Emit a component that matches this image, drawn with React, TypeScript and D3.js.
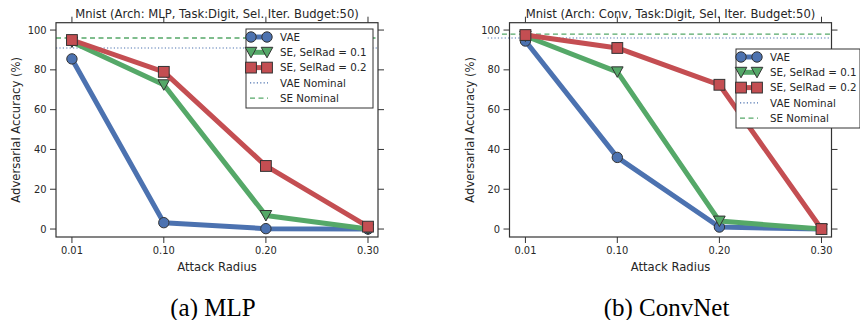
import React from "react";
import * as d3 from "d3";

// attack radii on the x axis
const radii = [0.01, 0.1, 0.2, 0.3];
const xTicks = [0.01, 0.1, 0.2, 0.3];
const yTicks = [0, 20, 40, 60, 80, 100];

// (a) MLP
const mlpVae = [85.5, 3.2, 0.2, 0];
const mlpSe01 = [94, 72.5, 6.8, 0];
const mlpSe02 = [95, 79, 31.7, 1.2];
const mlpNominal = { vae: 91, se: 96 };

// (b) ConvNet
const convVae = [94.5, 36, 1, 0];
const convSe01 = [97, 79, 4, 0];
const convSe02 = [97.5, 91, 72.5, 0];
const convNominal = { vae: 96, se: 98 };

const seriesNames = ["VAE", "SE, SelRad = 0.1", "SE, SelRad = 0.2"];
const nominalNames = ["VAE Nominal", "SE Nominal"];

const BLUE = "#4C72B0";
const GREEN = "#55A868";
const RED = "#C44E52";
const INK = "#262626";
const EDGE = "#333";
const FONT = "'DejaVu Sans', sans-serif";

type Marker = "circle" | "tri" | "square";

const styles: { color: string; marker: Marker }[] = [
  { color: BLUE, marker: "circle" },
  { color: GREEN, marker: "tri" },
  { color: RED, marker: "square" },
];

function MarkerShape({ kind, x, y, fill }: { kind: Marker; x: number; y: number; fill: string }) {
  if (kind === "circle")
    return <circle cx={x} cy={y} r={5.2} fill={fill} stroke={EDGE} strokeWidth={1} />;
  if (kind === "square")
    return <rect x={x - 5.4} y={y - 5.4} width={10.8} height={10.8} fill={fill} stroke={EDGE} strokeWidth={1} />;
  return (
    <path
      d={`M${x - 5.8},${y - 5}L${x + 5.8},${y - 5}L${x},${y + 5.5}Z`}
      fill={fill}
      stroke={EDGE}
      strokeWidth={1}
    />
  );
}

type PanelProps = {
  left: number;
  title: string;
  caption: string;
  series: number[][];
  nominal: { vae: number; se: number };
  nominalStart: { vae: number; se: number };
  legend: { x: number; y: number; w: number };
};

function Panel({ left, title, caption, series, nominal, nominalStart, legend }: PanelProps) {
  const w = 322;
  const top = 22.7;
  const bottom = 237;
  const x = d3.scaleLinear().domain([-0.0056, 0.3098]).range([left, left + w]);
  const y = d3.scaleLinear().domain([-4, 103.7]).range([bottom, top]);
  const line = d3
    .line<number>()
    .x((_, i) => x(radii[i]))
    .y((d) => y(d));
  const cx = left + w / 2;
  const rowH = 15.3;

  return (
    <g>
      {/* nominal reference lines */}
      <line
        x1={x(nominalStart.vae)}
        x2={left + w}
        y1={y(nominal.vae)}
        y2={y(nominal.vae)}
        stroke={BLUE}
        strokeWidth={1.1}
        strokeDasharray="1.2,2.2"
      />
      <line
        x1={x(nominalStart.se)}
        x2={left + w}
        y1={y(nominal.se)}
        y2={y(nominal.se)}
        stroke={GREEN}
        strokeWidth={1.3}
        strokeDasharray="5,3.5"
      />

      {series.map((vals, si) => (
        <g key={si}>
          <path
            d={line(vals) || ""}
            fill="none"
            stroke={styles[si].color}
            strokeWidth={5}
            strokeLinejoin="round"
          />
          {vals.map((v, i) => (
            <MarkerShape key={i} kind={styles[si].marker} x={x(radii[i])} y={y(v)} fill={styles[si].color} />
          ))}
        </g>
      ))}

      {/* frame */}
      <rect x={left} y={top} width={w} height={bottom - top} fill="none" stroke={EDGE} strokeWidth={1.2} />

      {/* ticks */}
      {xTicks.map((t) => (
        <g key={"x" + t}>
          <line x1={x(t)} x2={x(t)} y1={bottom} y2={bottom + 6} stroke={EDGE} strokeWidth={1} />
          <line x1={x(t)} x2={x(t)} y1={top} y2={top - 6} stroke={EDGE} strokeWidth={1} />
          <text x={x(t)} y={254} textAnchor="middle" fontSize={9.9} fill={INK} fontFamily={FONT}>
            {d3.format(".2f")(t)}
          </text>
        </g>
      ))}
      {yTicks.map((t) => (
        <g key={"y" + t}>
          <line x1={left - 6} x2={left} y1={y(t)} y2={y(t)} stroke={EDGE} strokeWidth={1} />
          <line x1={left + w} x2={left + w + 6} y1={y(t)} y2={y(t)} stroke={EDGE} strokeWidth={1} />
          <text x={left - 9.5} y={y(t) + 3.5} textAnchor="end" fontSize={9.9} fill={INK} fontFamily={FONT}>
            {t}
          </text>
        </g>
      ))}

      {/* labels */}
      <text x={cx} y={17.7} textAnchor="middle" fontSize={11.6} fill={INK} fontFamily={FONT}>
        {title}
      </text>
      <text x={cx} y={270.5} textAnchor="middle" fontSize={11.6} fill={INK} fontFamily={FONT}>
        Attack Radius
      </text>
      <text
        transform={`translate(${left - 36},${(top + bottom) / 2}) rotate(-90)`}
        textAnchor="middle"
        fontSize={11.6}
        fill={INK}
        fontFamily={FONT}
      >
        Adversarial Accuracy (%)
      </text>
      <text
        x={cx - 4}
        y={315.5}
        textAnchor="middle"
        fontSize={25}
        fill="#000"
        fontFamily="'Liberation Serif', 'Times New Roman', serif"
      >
        {caption}
      </text>

      {/* legend */}
      <g transform={`translate(${legend.x},${legend.y})`}>
        <rect x={0} y={0} width={legend.w} height={rowH * 5 + 2.5} fill="#fff" stroke={EDGE} strokeWidth={1} />
        {seriesNames.map((name, i) => {
          const ry = 8 + i * rowH;
          return (
            <g key={name}>
              <line x1={5} x2={21} y1={ry} y2={ry} stroke={styles[i].color} strokeWidth={5} />
              <MarkerShape kind={styles[i].marker} x={5} y={ry} fill={styles[i].color} />
              <MarkerShape kind={styles[i].marker} x={21} y={ry} fill={styles[i].color} />
              <text x={34} y={ry + 3.7} fontSize={10.3} fill={INK} fontFamily={FONT}>
                {name}
              </text>
            </g>
          );
        })}
        {nominalNames.map((name, j) => {
          const ry = 8 + (j + 3) * rowH;
          return (
            <g key={name}>
              <line
                x1={4}
                x2={22}
                y1={ry}
                y2={ry}
                stroke={j === 0 ? BLUE : GREEN}
                strokeWidth={j === 0 ? 1.1 : 1.3}
                strokeDasharray={j === 0 ? "1.2,2.2" : "5,3.5"}
              />
              <text x={34} y={ry + 3.7} fontSize={10.3} fill={INK} fontFamily={FONT}>
                {name}
              </text>
            </g>
          );
        })}
      </g>
    </g>
  );
}

export default function App() {
  return (
    <div style={{ position: "absolute", left: 0, top: 0 }}>
      <svg width={860} height={320} style={{ display: "block", background: "#fff" }}>
        <Panel
          left={56}
          title="Mnist (Arch: MLP, Task:Digit, Sel. Iter. Budget:50)"
          caption="(a) MLP"
          series={[mlpVae, mlpSe01, mlpSe02]}
          nominal={mlpNominal}
          nominalStart={{ vae: -0.0056, se: -0.0056 }}
          legend={{ x: 246, y: 29, w: 127 }}
        />
        <Panel
          left={509.5}
          title="Mnist (Arch: Conv, Task:Digit, Sel. Iter. Budget:50)"
          caption="(b) ConvNet"
          series={[convVae, convSe01, convSe02]}
          nominal={convNominal}
          nominalStart={{ vae: -0.027, se: -0.013 }}
          legend={{ x: 736, y: 49, w: 124 }}
        />
      </svg>
    </div>
  );
}
